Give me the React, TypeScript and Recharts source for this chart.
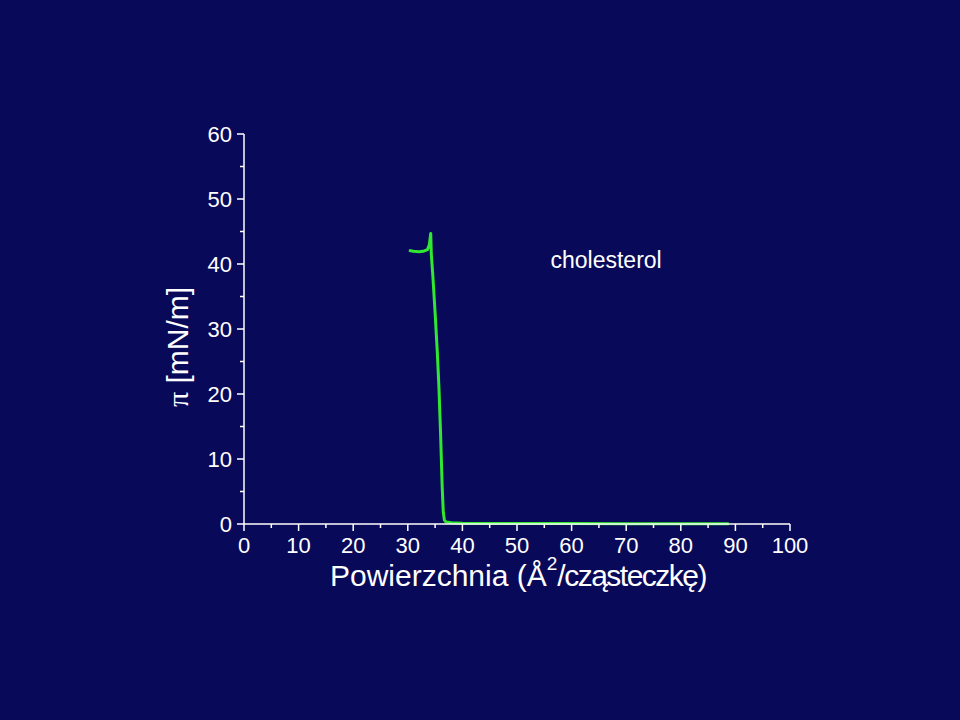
import React from 'react';
import { LineChart, Line, XAxis, YAxis, Label, ReferenceDot } from 'recharts';

// surface area per molecule (Å²) and surface pressure (mN/m)
const areaValues = [
  30.2, 31.0, 32.05, 32.8, 33.6, 33.95, 34.2, 34.3, 34.6, 35.0, 35.4, 35.7,
  36.0, 36.3, 36.5, 36.7, 37.0, 38.0, 40.0, 50.0, 60.0, 70.0, 80.0, 88.8,
];
const pressureValues = [
  42.1, 41.95, 41.9, 41.95, 42.2, 43.0, 44.7, 41.6, 38.0, 32.5, 26.5, 21.1,
  14.0, 5.7, 1.8, 0.6, 0.3, 0.2, 0.12, 0.08, 0.06, 0.04, 0.03, 0.02,
];

const xTicks = [0, 5, 10, 15, 20, 25, 30, 35, 40, 45, 50, 55, 60, 65, 70, 75, 80, 85, 90, 95, 100];
const yTicks = [0, 5, 10, 15, 20, 25, 30, 35, 40, 45, 50, 55, 60];

const BG = '#09095a';
const FG = '#ffffff';
const GREEN = '#30e830';
const FONT = '"Liberation Sans", Arial, sans-serif';

const data = areaValues.map((a, i) => ({ area: a, pi: pressureValues[i] }));

const XTick = (props: any) => {
  const { x, y, payload } = props;
  const major = payload.value % 10 === 0;
  return (
    <g>
      <line x1={x} y1={y} x2={x} y2={y + (major ? 7 : 4)} stroke={FG} strokeWidth={1.5} />
      {major && (
        <text x={x} y={y + 29} textAnchor="middle" fill={FG} fontSize={22} fontFamily={FONT}>
          {payload.value}
        </text>
      )}
    </g>
  );
};

const YTick = (props: any) => {
  const { x, y, payload } = props;
  const major = payload.value % 10 === 0;
  return (
    <g>
      <line x1={x - (major ? 7 : 4)} y1={y} x2={x} y2={y} stroke={FG} strokeWidth={1.5} />
      {major && (
        <text x={x - 12} y={y + 7.5} textAnchor="end" fill={FG} fontSize={22} fontFamily={FONT}>
          {payload.value}
        </text>
      )}
    </g>
  );
};

const XTitle = (props: any) => {
  const { x, y, width } = props.viewBox;
  return (
    <text x={x + width / 2 + 1} y={y + 62} textAnchor="middle" fill={FG} fontSize={30} fontFamily={FONT}>
      Powierzchnia (Å
      <tspan dy={-16} fontSize={19}>2</tspan>
      <tspan dy={16} letterSpacing={-1.5}>/cząsteczkę)</tspan>
    </text>
  );
};

const YTitle = (props: any) => {
  const { y, height } = props.viewBox;
  const cx = 188;
  const cy = y + height / 2 + 18;
  return (
    <text
      x={cx}
      y={cy}
      transform={`rotate(-90, ${cx}, ${cy})`}
      textAnchor="middle"
      fill={FG}
      fontSize={30}
      fontFamily={FONT}
    >
      <tspan fontFamily='"Liberation Serif", "DejaVu Serif", serif'>π</tspan> [mN/m]
    </text>
  );
};

const NameLabel = (props: any) => {
  const { x, y } = props.viewBox;
  return (
    <text x={x - 2} y={y} fill={FG} fontSize={23} fontFamily={FONT}>
      cholesterol
    </text>
  );
};

export default function App() {
  return (
    <div style={{ position: 'fixed', left: 0, top: 0, width: 960, height: 720, background: BG }}>
      <LineChart
        width={960}
        height={720}
        data={data}
        margin={{ top: 134, right: 170, bottom: 166, left: 0 }}
      >
        <XAxis
          dataKey="area"
          type="number"
          domain={[0, 100]}
          ticks={xTicks}
          interval={0}
          tickSize={0}
          tickMargin={0}
          tickLine={false}
          tick={XTick}
          height={30}
          axisLine={{ stroke: FG, strokeWidth: 1.5 }}
        >
          <Label content={XTitle} />
        </XAxis>
        <YAxis
          type="number"
          domain={[0, 60]}
          ticks={yTicks}
          interval={0}
          tickSize={0}
          tickMargin={0}
          tickLine={false}
          tick={YTick}
          width={244}
          axisLine={{ stroke: FG, strokeWidth: 1.5 }}
        >
          <Label content={YTitle} />
        </YAxis>
        <ReferenceDot x={56.5} y={39.4} r={0} fill="none" stroke="none" label={<NameLabel />} />
        <Line
          type="linear"
          dataKey="pi"
          stroke={GREEN}
          strokeWidth={3}
          strokeLinejoin="round"
          dot={false}
          isAnimationActive={false}
        />
      </LineChart>
    </div>
  );
}
